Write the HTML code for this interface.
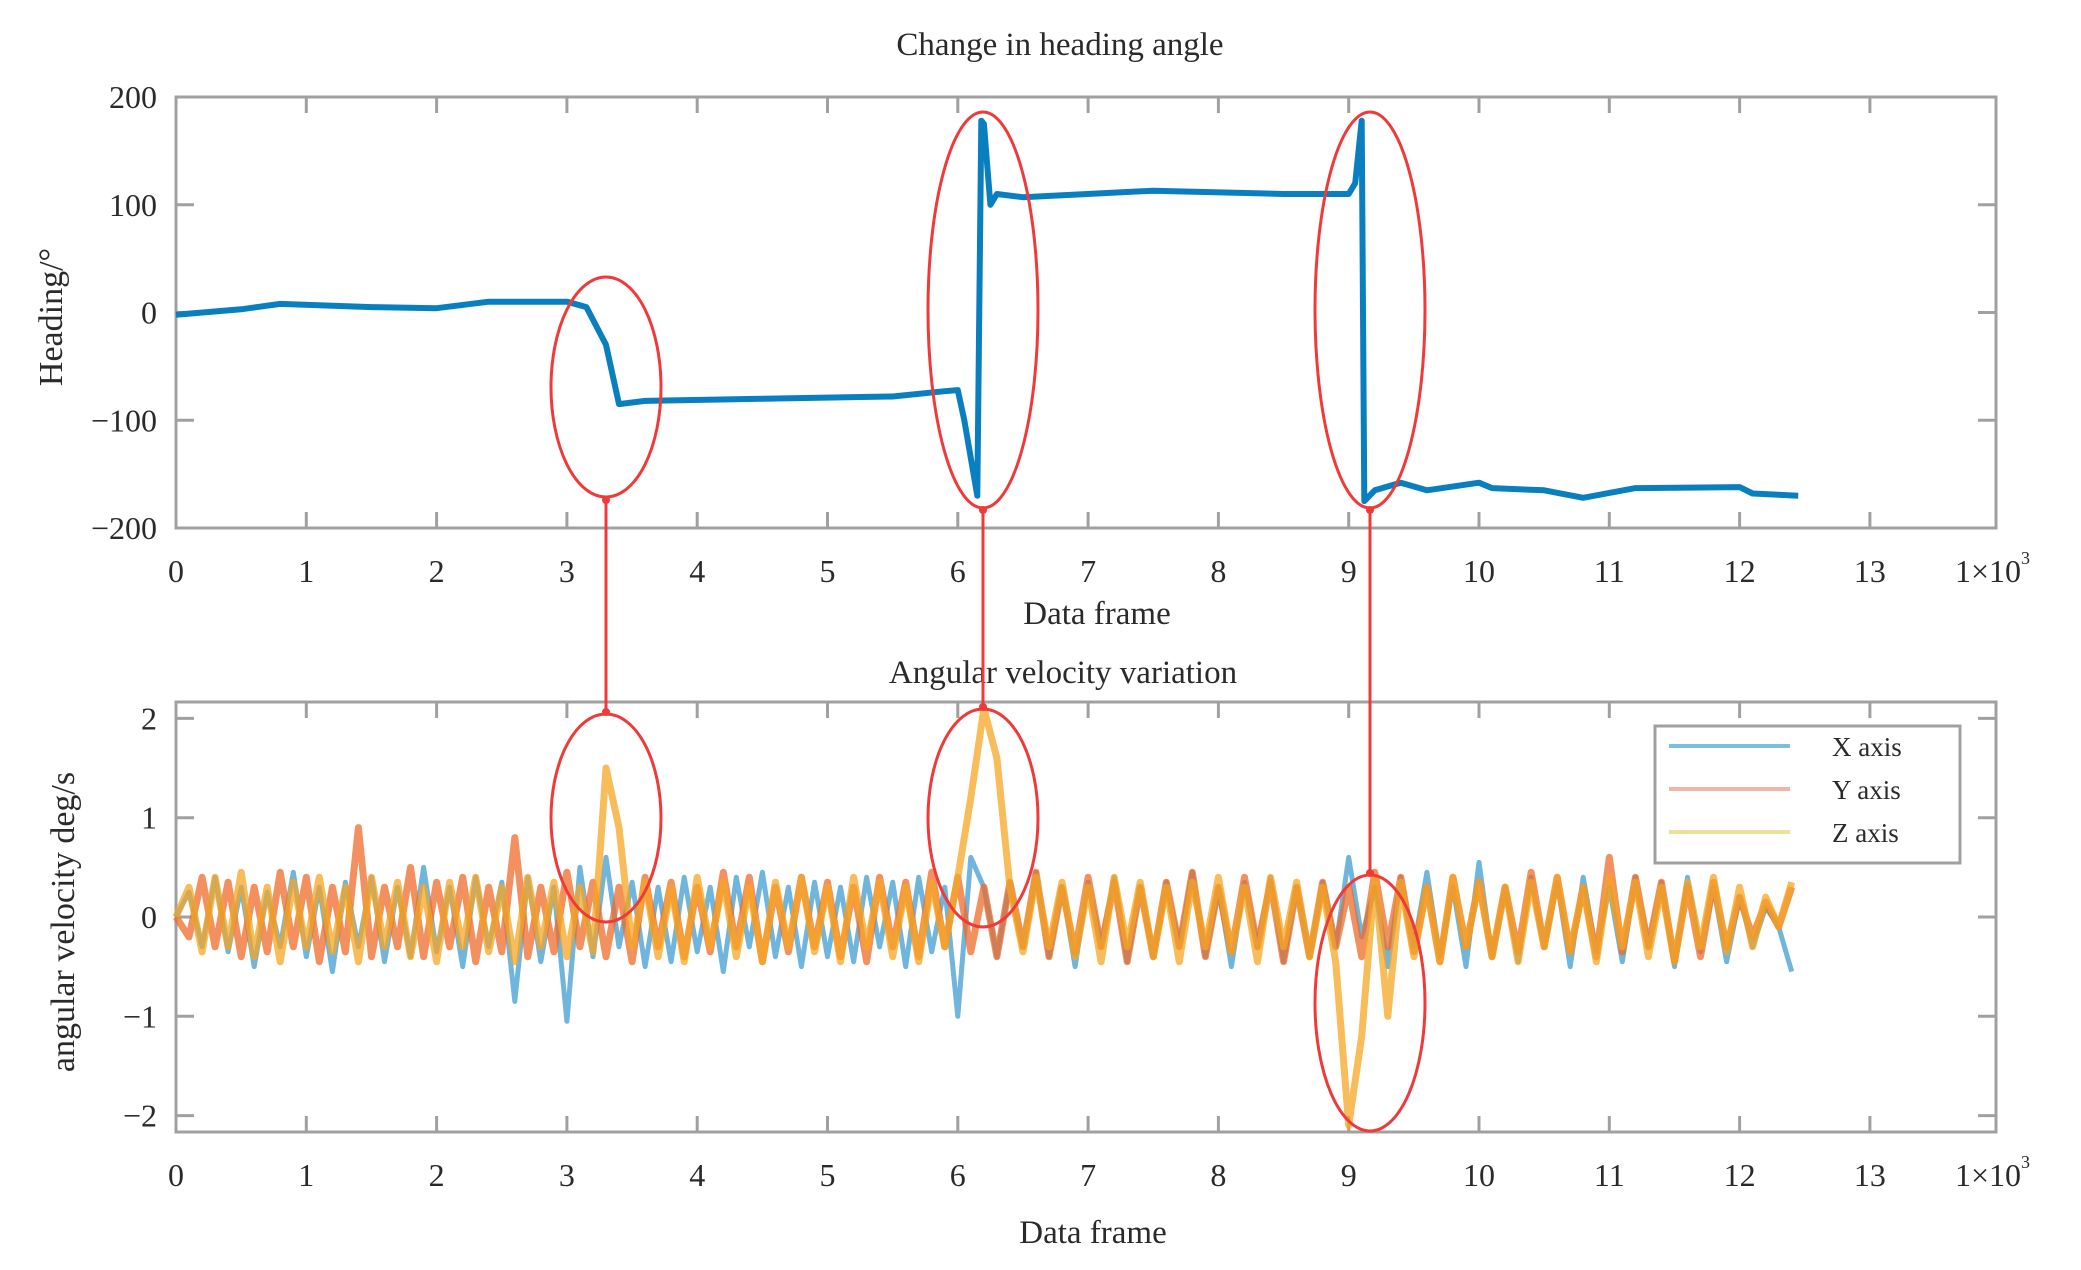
<!DOCTYPE html>
<html><head><meta charset="utf-8"><style>
html,body{margin:0;padding:0;background:#fff;}
svg{display:block;}
text{font-family:"Liberation Serif",serif;fill:#2a2a2a;}
</style></head><body>
<svg id="chart" width="2081" height="1270" viewBox="0 0 2081 1270"></svg>
<script>
const xTicks=[0,1,2,3,4,5,6,7,8,9,10,11,12,13];
const headTicks=[200,100,0,-100,-200];
const avTicks=[2,1,0,-1,-2];
const headFrames=[0,500,800,1500,2000,2400,3000,3150,3300,3400,3600,4500,5500,5900,6000,6050,6150,6180,6200,6250,6300,6500,7500,8500,9000,9050,9100,9120,9200,9400,9600,10000,10100,10500,10800,11200,12000,12100,12450];
const headValues=[-2,3,8,5,4,10,10,5,-30,-85,-82,-80,-78,-73,-72,-100,-170,178,175,100,110,107,113,110,110,120,178,-175,-165,-158,-165,-158,-163,-165,-172,-163,-162,-168,-170];
const avFrameStep=100;
const avX=[0,0.25,-0.3,0.4,-0.35,0.3,-0.5,0.25,-0.3,0.45,-0.4,0.3,-0.55,0.35,-0.3,0.4,-0.45,0.3,-0.4,0.5,-0.35,0.3,-0.5,0.4,-0.3,0.35,-0.85,0.4,-0.45,0.3,-1.05,0.5,-0.4,0.6,-0.3,0.35,-0.5,0.3,-0.45,0.4,-0.35,0.3,-0.55,0.4,-0.3,0.45,-0.4,0.3,-0.5,0.35,-0.4,0.3,-0.45,0.4,-0.3,0.35,-0.5,0.4,-0.35,0.3,-1.0,0.6,0.3,-0.4,0.35,-0.3,0.45,-0.4,0.3,-0.5,0.35,-0.3,0.4,-0.45,0.3,-0.4,0.35,-0.3,0.45,-0.4,0.3,-0.5,0.35,-0.3,0.4,-0.45,0.3,-0.4,0.35,-0.3,0.6,-0.2,0.3,-0.5,0.4,-0.3,0.45,-0.4,0.3,-0.5,0.55,-0.4,0.3,-0.45,0.4,-0.3,0.35,-0.5,0.4,-0.35,0.3,-0.45,0.4,-0.3,0.35,-0.5,0.4,-0.35,0.3,-0.45,0.2,-0.3,0.1,-0.1,-0.55];
const avY=[0,-0.2,0.4,-0.3,0.35,-0.4,0.3,-0.35,0.45,-0.3,0.4,-0.45,0.3,-0.35,0.9,-0.4,0.3,-0.3,0.5,-0.4,0.35,-0.3,0.4,-0.45,0.3,-0.35,0.8,-0.4,0.3,-0.35,0.45,-0.3,0.35,-0.4,0.3,-0.45,0.4,-0.3,0.35,-0.4,0.3,-0.35,0.45,-0.3,0.4,-0.45,0.3,-0.35,0.4,-0.3,0.35,-0.4,0.3,-0.45,0.4,-0.3,0.35,-0.4,0.45,-0.3,0.4,-0.35,0.3,-0.4,0.35,-0.3,0.45,-0.4,0.3,-0.35,0.4,-0.3,0.35,-0.45,0.3,-0.4,0.35,-0.3,0.45,-0.4,0.3,-0.35,0.4,-0.3,0.35,-0.45,0.3,-0.4,0.35,-0.3,0.3,-0.4,0.45,-0.3,0.4,-0.35,0.3,-0.45,0.4,-0.3,0.35,-0.4,0.3,-0.35,0.45,-0.3,0.4,-0.35,0.3,-0.4,0.6,-0.35,0.4,-0.3,0.35,-0.45,0.3,-0.4,0.35,-0.3,0.2,-0.2,0.15,-0.1,0.3];
const avZ=[0,0.3,-0.35,0.4,-0.3,0.45,-0.4,0.3,-0.45,0.35,-0.3,0.4,-0.35,0.3,-0.45,0.4,-0.3,0.35,-0.4,0.3,-0.45,0.35,-0.3,0.4,-0.35,0.3,-0.45,0.4,-0.3,0.35,-0.4,0.3,-0.35,1.5,0.9,-0.3,0.35,-0.4,0.3,-0.45,0.4,-0.3,0.35,-0.4,0.3,-0.45,0.35,-0.3,0.4,-0.35,0.3,-0.45,0.4,-0.3,0.35,-0.4,0.3,-0.45,0.35,-0.3,0.4,1.2,2.1,1.6,0.3,-0.35,0.4,-0.3,0.35,-0.4,0.3,-0.45,0.4,-0.3,0.35,-0.4,0.3,-0.45,0.35,-0.3,0.4,-0.35,0.3,-0.45,0.4,-0.3,0.35,-0.4,0.3,-0.45,-2.1,-1.2,0.4,-1.0,0.35,-0.4,0.3,-0.45,0.4,-0.3,0.35,-0.4,0.3,-0.45,0.35,-0.3,0.4,-0.35,0.3,-0.45,0.4,-0.3,0.35,-0.4,0.3,-0.45,0.35,-0.3,0.4,-0.35,0.3,-0.3,0.2,-0.1,0.35];

const NS="http://www.w3.org/2000/svg";
const svg=document.getElementById('chart');
function mk(tag,attrs,parent){const e=document.createElementNS(NS,tag);for(const k in attrs)e.setAttribute(k,attrs[k]);(parent||svg).appendChild(e);return e;}
const L=176,R=1996;
function xs(k){return L+k*130.3;}
function xf(f){return xs(f/1000);}
const T1=97,B1=528;
function yh(v){return T1+(200-v)*(B1-T1)/400;}
const T2=702,B2=1132;
function ya(v){return 917-v*99.3;}

function axes(T,B,yt,yfn,name,fmt){
  const g=mk('g',{});
  
  
  mk('rect',{x:L,y:T,width:R-L,height:B-T,fill:'none',stroke:'#a0a0a0','stroke-width':3},g);
  xTicks.forEach(t=>{const x=xs(t);
    mk('line',{x1:x,y1:B,x2:x,y2:B-16,stroke:'#a0a0a0','stroke-width':3},g);
    mk('line',{x1:x,y1:T,x2:x,y2:T+16,stroke:'#a0a0a0','stroke-width':3},g);
    const tx=mk('text',{x:x,y:B+54,'font-size':32,'text-anchor':'middle'},g);tx.textContent=t;
    
    
  });
  const ex=mk('text',{x:1955,y:B+54,'font-size':32},g);ex.textContent='1×10';
  
  
  const sup=mk('tspan',{'font-size':18,dy:-18},ex);sup.textContent='3';
  yt.forEach(v=>{const y=yfn(v);
    mk('line',{x1:L,y1:y,x2:L+18,y2:y,stroke:'#a0a0a0','stroke-width':3},g);
    mk('line',{x1:R,y1:y,x2:R-18,y2:y,stroke:'#a0a0a0','stroke-width':3},g);
    const tx=mk('text',{x:157,y:y+11,'font-size':32,'text-anchor':'end'},g);tx.textContent=fmt(v);
    
    
  });
}
axes(T1,B1,headTicks,yh,'heading-axes',v=>v<0?'−'+(-v):''+v);
axes(T2,B2,avTicks,ya,'angular-velocity-axes',v=>v<0?'−'+(-v):''+v);

function label(txt,x,y,size,name,rot){const t=mk('text',{x:x,y:y,'font-size':size,'text-anchor':'middle'});
  if(rot)t.setAttribute('transform','rotate(-90 '+x+' '+y+')');t.textContent=txt;
  
  }
label('Change in heading angle',1060,55,33,'top-chart-title');
label('Data frame',1097,624,33,'top-x-axis-title');
label('Heading/°',62,317,34,'top-y-axis-title',true);
label('Angular velocity variation',1063,683,33,'bottom-chart-title');
label('Data frame',1093,1243,33,'bottom-x-axis-title');
label('angular velocity deg/s',74,922,34,'bottom-y-axis-title',true);

let d='';headFrames.forEach((f,i)=>{d+=(i?'L':'M')+xf(f).toFixed(1)+' '+yh(headValues[i]).toFixed(1);});
const hp=mk('path',{d:d,fill:'none',stroke:'#0a7fc0','stroke-width':6,'stroke-linejoin':'round'});



function series(arr,color,w,op,name){let p='';arr.forEach((v,i)=>{p+=(i?'L':'M')+xf(i*avFrameStep).toFixed(1)+' '+ya(v).toFixed(1);});
  const e=mk('path',{d:p,fill:'none',stroke:color,'stroke-width':w,opacity:op,'stroke-linejoin':'round'});
  
  }
series(avX,'#4ba3d3',5,0.8,'x-axis-series');
series(avY,'#ef6b2a',7,0.75,'y-axis-series');
series(avZ,'#f5a623',7,0.75,'z-axis-series');

const lg=mk('g',{});


mk('rect',{x:1655,y:726,width:305,height:137,fill:'#fff',stroke:'#a0a0a0','stroke-width':3},lg);
[['X axis','#7cc0dc',752],['Y axis','#f2b4a8',795],['Z axis','#ece19a',838]].forEach(it=>{
  mk('line',{x1:1669,y1:it[2]-6,x2:1790,y2:it[2]-6,stroke:it[1],'stroke-width':4},lg);
  const t=mk('text',{x:1832,y:it[2]+4,'font-size':27},lg);t.textContent=it[0];
  
  
});

const ell=[[606,387,55,110],[983,310,55,198],[1370,310,55,198],[606,818,55,104],[983,818,55,109],[1370,1003,55,128]];
ell.forEach(e=>{const el=mk('ellipse',{cx:e[0],cy:e[1],rx:e[2],ry:e[3],fill:'none',stroke:'#f03a3a','stroke-width':3});
  
  });
[[606,500,712],[983,510,707],[1370,510,873]].forEach(a=>{
  const ln=mk('line',{x1:a[0],y1:a[1],x2:a[0],y2:a[2],stroke:'#f03a3a','stroke-width':3});
  
  
  mk('circle',{cx:a[0],cy:a[1],r:4,fill:'#f03a3a'});
  mk('circle',{cx:a[0],cy:a[2],r:4,fill:'#f03a3a'});
});
</script>
</body></html>
